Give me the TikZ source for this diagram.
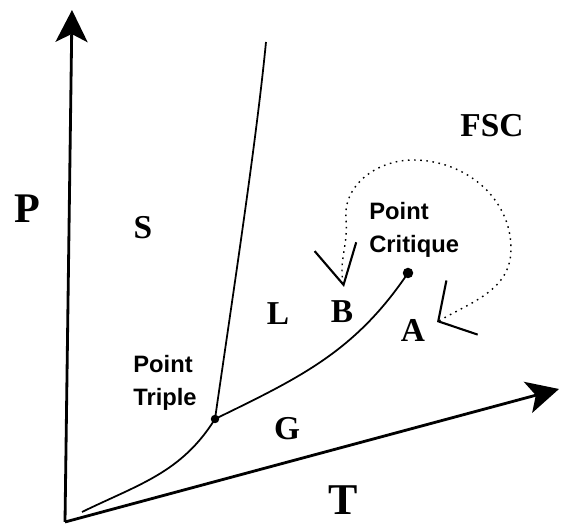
\documentclass[tikz,border=0pt]{standalone}
\usepackage{fontspec}
\setmainfont{Liberation Serif}
\setsansfont{Liberation Sans}
\usetikzlibrary{arrows.meta}

\begin{document}
\begin{tikzpicture}[
            axis/.style={
                    line width=1.6pt,
                    -{Stealth[length=0.64cm, width=0.64cm, inset=0.16cm]}
                },
            curve/.style={
                    line width=1pt
                },
            fsc/.style={
                    line width=0.8pt,
                    dash pattern=on 0.9pt off 2.6pt
                },
            region/.style={
                    font=\bfseries\fontsize{19}{21}\selectfont,
                    inner sep=0pt
                },
            point/.style={
                    align=left,
                    font=\sffamily\bfseries\fontsize{13.5}{19}\selectfont,
                    inner sep=0pt,
                    anchor=west
                },
            dot/.style={
                    circle,
                    fill,
                    inner sep=0pt
                }
        ]

        \useasboundingbox (0, 0) rectangle (11.22, 10.48);

        \coordinate (origin) at (1.30, 0.04);
        \coordinate (ptop) at (1.44, 10.28);
        \coordinate (tend) at (11.18, 2.70);
        \coordinate (subl) at (1.64, 0.24);
        \coordinate (fusion) at (5.32, 9.64);
        \coordinate (fscA) at (8.74, 4.04);
        \coordinate (fscB) at (6.88, 4.74);

        \node[dot, minimum size=0.17cm] (triple) at (4.30, 2.10) {};
        \node[dot, minimum size=0.21cm] (critique) at (8.16, 5.02) {};

        \node[region, font=\bfseries\fontsize{24}{26}\selectfont] (p) at (0.54, 6.30) {P};
        \node[region, font=\bfseries\fontsize{25}{27}\selectfont] (t) at (6.86, 0.48) {T};
        \node[region] (s) at (2.86, 5.92) {S};
        \node[region] (l) at (5.56, 4.20) {L};
        \node[region] (g) at (5.74, 1.90) {G};
        \node[region] (b) at (6.84, 4.24) {B};
        \node[region] (a) at (8.26, 3.88) {A};
        \node[region] (fsclabel) at (9.84, 7.96) {FSC};

        \node[point] (ptcritique) at (7.38, 5.88) {Point\\Critique};
        \node[point] (pttriple) at (2.66, 2.82) {Point\\Triple};

        \draw[axis] (origin) to (ptop);
        \draw[axis] (origin) to (tend);

        \draw[curve] (subl) to[out=26, in=238] (triple.center);
        \draw[curve] (triple.center) .. controls (4.66, 4.6) and (5.12, 7.6) .. (fusion);
        \draw[curve] (triple.center) to[out=26, in=236] (critique.center);

        \draw[fsc,
            {Straight Barb[length=0.55cm, width=1.25cm, line width=1.2pt]}-{Straight Barb[length=0.78cm, width=0.85cm, line width=1.2pt]}]
            (fscA) to[out=30, in=-90] (10.22, 5.50)
            to[out=90, in=0] (8.26, 7.28)
            to[out=180, in=95] (6.92, 6.10)
            to[out=-85, in=102] (fscB);

    \end{tikzpicture}
\end{document}
